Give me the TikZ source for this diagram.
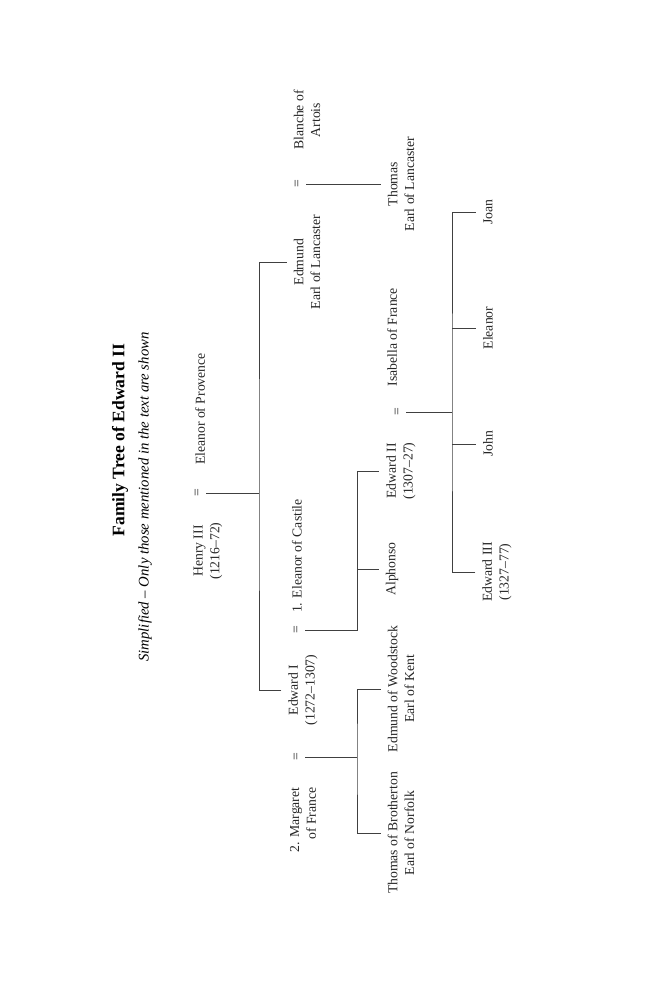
\documentclass[tikz,border=0pt]{standalone}
\usepackage{fontspec}
\setmainfont{Liberation Serif}
\usetikzlibrary{positioning}

\begin{document}
\begin{tikzpicture}[x=0.02cm,y=-0.02cm]
	 \tikzstyle{person}=[rectangle,rotate=90,align=center,inner sep=1.5pt,outer sep=2.5pt,text=black!85,font=\fontsize{7.8}{9.6}\selectfont]
	 \tikzstyle{wed}=[person,inner sep=1pt,outer sep=2pt]
	 \tikzstyle{edge} = [draw,line width=0.5pt,-,black!75]
	 \useasboundingbox (0,0) rectangle (650,992);
	 % heading
	 \node[rotate=90,font=\fontsize{10}{12}\selectfont\bfseries] (title) at (120,440) {Family Tree of Edward II};
	 \node[rotate=90,font=\fontsize{8.4}{10}\selectfont\itshape] (subtitle) at (145,497) {Simplified -- Only those mentioned in the text are shown};
	 % generation 1
	 \node[person] (henry) at (208,551) {Henry III\\(1216--72)};
	 \node[wed] (eq1) at (198,493) {=};
	 \node[person] (provence) at (200,409) {Eleanor of Provence};
	 % generation 2
	 \node[person] (edwardI) at (303,690) {Edward I\\(1272--1307)};
	 \node[wed] (eq2) at (297,630) {=};
	 \node[person] (castile) at (297,556) {1. Eleanor of Castile};
	 \node[wed] (eq3) at (297,757) {=};
	 \node[person,align=right] (margaret) at (303,820) {2. Margaret\\of France};
	 \node[person] (edmund) at (307,262) {Edmund\\Earl of Lancaster};
	 \node[wed] (eq4) at (298,184) {=};
	 \node[person] (blanche) at (307,120) {Blanche of\\Artois};
	 % generation 3
	 \node[person] (thomas) at (401,184) {Thomas\\Earl of Lancaster};
	 \node[person] (alphonso) at (392,569) {Alphonso};
	 \node[person] (edwardII) at (401,471) {Edward II\\(1307--27)};
	 \node[wed] (eq5) at (398,412) {=};
	 \node[person] (isabella) at (392,337) {Isabella of France};
	 \node[person] (woodstock) at (401,689) {Edmund of Woodstock\\Earl of Kent};
	 \node[person] (brotherton) at (401,833) {Thomas of Brotherton\\Earl of Norfolk};
	 % generation 4
	 \node[person] (edwardIII) at (497,572) {Edward III\\(1327--77)};
	 \node[person] (john) at (488,444) {John};
	 \node[person] (eleanor) at (488,328) {Eleanor};
	 \node[person] (joan) at (488,212) {Joan};
	 % junctions
	 \coordinate (jHenry) at (259,493);
	 \coordinate (jCastile) at (357,630);
	 \coordinate (jMargaret) at (357,757);
	 \coordinate (jIsabella) at (452,412);
	 % lines of descent
	 \draw[edge] (eq1) -- (jHenry);
	 \draw[edge] (edwardI.north) -| (jHenry) |- (edmund.north);
	 \draw[edge] (eq2) -- (jCastile) |- (edwardII.north);
	 \draw[edge] (jCastile |- alphonso.north) -- (alphonso.north);
	 \draw[edge] (eq3) -- (jMargaret);
	 \draw[edge] (woodstock.north) -| (jMargaret) |- (brotherton.north);
	 \draw[edge] (eq4) -- (thomas.north);
	 \draw[edge] (eq5) -- (jIsabella);
	 \draw[edge] (edwardIII.north) -| (jIsabella) |- (joan.north);
	 \draw[edge] (jIsabella |- john.north) -- (john.north);
	 \draw[edge] (jIsabella |- eleanor.north) -- (eleanor.north);
 \end{tikzpicture}
\end{document}
